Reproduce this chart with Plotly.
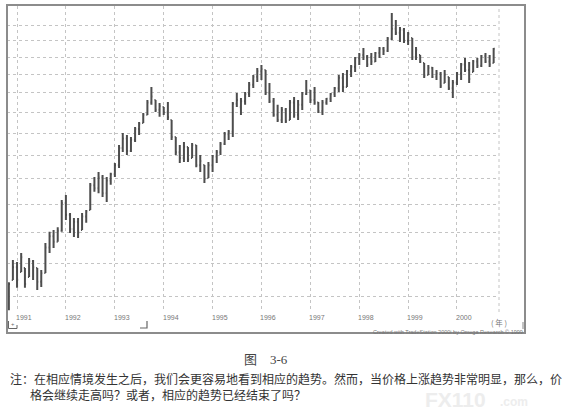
import math
import pandas as pd
import plotly.graph_objects as go

# ---------------- data (monthly bars, Nov 1990 - Oct 2000) ----------------
months = pd.date_range("1990-11-01", periods=120, freq="MS")

highs = [75.4, 80.8, 80.3, 82.6, 78.8, 81.3, 80.8, 78.8, 78.3, 85.2,
         88.2, 88.7, 89.5, 97.4, 98.9, 93.5, 92.1, 92.1, 93.5, 94.4,
         102.7, 104.6, 106.3, 105.3, 104.6, 106.0, 109.3, 115.6, 120.0, 119.3,
         118.5, 122.3, 124.2, 127.7, 133.0, 138.5, 133.0, 131.8, 130.1, 132.2,
         125.0, 118.5, 115.6, 116.7, 114.9, 116.3, 115.6, 112.1, 108.6, 109.6,
         112.1, 113.8, 116.7, 120.4, 121.1, 132.2, 135.9, 133.8, 136.4,
         140.7, 143.8, 146.9, 148.3, 146.0, 140.2, 133.8, 131.0, 130.1, 129.7,
         133.0, 134.3, 133.0, 136.4, 141.6, 137.2, 138.5, 132.2, 133.0, 133.8,
         135.9, 138.5, 143.8, 144.7, 146.0, 148.3, 152.1, 154.0, 156.4, 153.0,
         154.0, 154.5, 156.9, 156.9, 161.8, 174.4, 170.6, 167.0, 166.5,
         164.4, 161.3, 156.9, 153.0, 149.3, 148.3, 147.4, 146.0, 145.1, 146.0,
         142.9, 141.6, 145.1, 149.3, 151.6, 149.7, 150.7, 151.6, 153.0, 154.0,
         153.0, 156.4]

lows = [69.1, 75.9, 74.1, 77.8, 74.1, 76.6, 75.9, 73.6, 74.3, 77.6,
        82.6, 83.9, 85.5, 88.2, 91.5, 87.9, 86.8, 86.5, 88.7, 90.7,
        94.4, 99.9, 99.5, 98.3, 96.8, 102.1, 104.6, 107.6, 113.1, 112.1,
        113.1, 116.7, 119.3, 123.8, 126.9, 131.0, 128.1, 126.2, 126.9, 125.0,
        117.4, 112.1, 109.3, 109.6, 109.6, 111.0, 107.9, 106.3, 102.7, 104.3,
        106.3, 109.3, 112.1, 115.6, 117.4, 118.5, 130.1, 126.9, 131.0,
        134.3, 138.1, 140.7, 141.6, 135.1, 131.8, 126.2, 124.2, 123.8, 123.8,
        125.0, 125.8, 125.0, 128.9, 135.1, 131.8, 131.0, 127.7, 126.9, 131.0,
        132.2, 134.3, 136.4, 136.4, 138.5, 142.9, 145.1, 148.3, 150.7, 147.4,
        148.3, 149.7, 151.6, 153.0, 154.5, 160.3, 162.9, 159.3, 158.8,
        157.9, 150.7, 150.7, 149.3, 142.4, 143.8, 142.4, 141.6, 138.1, 140.2,
        137.2, 133.8, 139.4, 141.6, 145.1, 140.2, 145.1, 146.9, 147.4, 149.3,
        147.4, 149.3]

opens = [69.5, 75.9, 79.0, 77.8, 78.8, 76.6, 80.5, 78.8, 75.5, 77.6,
         84.0, 87.0, 85.5, 88.5, 96.5, 93.0, 89.0, 91.0, 88.7, 92.5,
         94.4, 102.0, 101.0, 104.5, 99.5, 103.5, 105.5, 108.5, 114.5, 118.0,
         113.5, 117.5, 121.5, 123.8, 127.0, 132.0, 133.0, 129.0, 130.1, 128.0,
         125.0, 118.5, 113.0, 111.0, 114.9, 111.0, 115.5, 108.5, 108.6, 104.3,
         108.5, 111.5, 113.0, 116.0, 119.5, 120.5, 131.5, 130.0, 132.5,
         135.5, 139.5, 143.0, 145.5, 146.0, 136.0, 132.5, 127.0, 125.0, 129.0,
         125.0, 132.0, 127.0, 131.0, 135.5, 137.0, 133.0, 132.0, 128.5, 132.0,
         133.5, 135.5, 138.0, 142.5, 138.5, 145.5, 147.5, 151.5, 153.0, 152.0,
         152.0, 150.0, 154.0, 156.0, 155.0, 161.0, 166.0, 164.0, 165.5,
         160.0, 161.3, 152.0, 153.0, 149.3, 143.8, 147.0, 143.0, 144.5, 140.2,
         142.9, 138.0, 140.5, 144.5, 148.5, 146.0, 145.1, 150.0, 148.0, 152.5,
         150.0, 149.3]

closes = [75.0, 79.0, 76.0, 81.5, 75.0, 80.5, 79.0, 75.5, 77.5, 84.0,
          87.0, 85.5, 88.5, 96.5, 93.0, 89.0, 91.0, 88.0, 92.5, 94.0,
          102.0, 101.0, 104.5, 99.5, 103.5, 105.5, 108.5, 114.5, 118.0, 113.5,
          117.5, 121.5, 123.5, 127.0, 132.0, 134.5, 129.0, 130.5, 128.0, 126.0,
          118.5, 113.0, 111.0, 115.0, 110.5, 115.5, 108.5, 110.0, 104.0, 108.5,
          111.5, 113.0, 116.0, 119.5, 120.5, 131.5, 133.0, 132.5, 135.5,
          139.5, 143.0, 145.5, 146.5, 136.0, 132.5, 127.0, 125.0, 129.0, 124.5,
          132.0, 127.0, 131.0, 135.5, 137.0, 133.0, 132.0, 128.5, 132.0, 133.5,
          135.5, 138.0, 142.5, 138.5, 145.5, 147.5, 151.5, 153.0, 152.0, 148.5,
          150.0, 154.0, 156.0, 155.0, 161.0, 166.0, 164.0, 165.5, 160.0,
          163.5, 152.0, 155.5, 150.0, 143.5, 147.0, 143.0, 144.5, 139.0, 144.0,
          138.0, 140.5, 144.5, 148.5, 146.0, 142.0, 150.0, 148.0, 152.5, 150.0,
          148.5, 156.0]

year_ticks = ["1991-01-01", "1992-01-01", "1993-01-01", "1994-01-01", "1995-01-01",
              "1996-01-01", "1997-01-01", "1998-01-01", "1999-01-01", "2000-01-01"]
year_labels = ["1991", "1992", "1993", "1994", "1995", "1996", "1997", "1998",
               "1999", "2000"]
price_grid = [72, 80, 88, 96, 104, 112, 120, 128, 136, 144, 152, 160, 168]

caption_title = "图　3-6"
note_line1 = "注：在相应情境发生之后，我们会更容易地看到相应的趋势。然而，当价格上涨趋势非常明显，那么，价"
note_line2 = "格会继续走高吗？或者，相应的趋势已经结束了吗？"
credit = "Created with TradeStation 2000i by Omega Research © 1999"
watermark = ("FX110", ".com")

# ---------------- layout helpers (pixel -> paper) ----------------
W, H = 574, 412
L, R, T, B = 7, 499, 6, 312


def px(x):
    return (x - L) / (R - L)


def py(y):
    return (B - y) / (B - T)


BAR = "#4d4d4d"
GRID = "#c4c4c4"
fig = go.Figure()
fig.add_trace(go.Ohlc(
    x=months, open=opens, high=highs, low=lows, close=closes,
    increasing=dict(line=dict(color=BAR, width=2)),
    decreasing=dict(line=dict(color=BAR, width=2)),
    tickwidth=0.3, showlegend=False, hoverinfo="skip",
))

shapes = [
    # dotted right edge of the price pane
    dict(type="line", xref="paper", yref="paper", x0=1, x1=1, y0=0, y1=1,
         line=dict(color=GRID, width=1, dash="dot"), layer="below"),
    # outer chart frame
    dict(type="rect", xref="paper", yref="paper",
         x0=px(7), x1=px(525), y0=py(333), y1=py(5),
         line=dict(color="#8c8c8c", width=2), layer="above"),
    # scroll markers
    dict(type="path", xref="paper", yref="paper",
         path=f"M {px(8.5)} {py(321)} L {px(8.5)} {py(328.5)} L {px(17)} {py(328.5)} L {px(17)} {py(325)}",
         line=dict(color="#666", width=1)),
    dict(type="path", xref="paper", yref="paper",
         path=f"M {px(140)} {py(328)} L {px(147)} {py(328)} L {px(147)} {py(321)}",
         line=dict(color="#666", width=1.2)),
    dict(type="line", xref="paper", yref="paper",
         x0=px(523), x1=px(523), y0=py(322), y1=py(329),
         line=dict(color="#888", width=1)),
]

annotations = []
# year labels, sitting just right of each yearly gridline
for tv, lab in zip(year_ticks, year_labels):
    annotations.append(dict(text=lab, x=tv, xref="x", y=py(317), yref="paper",
                            xshift=7, xanchor="center", yanchor="middle",
                            showarrow=False,
                            font=dict(size=7, color="#777", family="Liberation Sans")))

extra = [
    dict(text="+", x=px(12.5), y=py(324.5), font=dict(size=6, color="#666")),
    dict(text="( 年 )", x=px(499), y=py(322.5),
         font=dict(size=7.5, color="#777", family="Noto Sans CJK SC")),
    dict(text=credit, x=px(525), y=py(331.5), xanchor="right",
         font=dict(size=5.5, color="#777", family="Liberation Sans")),
    # faint watermark
    dict(text="<b>" + watermark[0] + "</b>", x=px(455), y=py(400),
         font=dict(size=21, color="#ededed", family="Liberation Sans")),
    dict(text="<b>" + watermark[1] + "</b>", x=px(514), y=py(402),
         font=dict(size=12, color="#ededed", family="Liberation Sans")),
    dict(text=caption_title, x=px(266), y=py(360),
         font=dict(size=13, color="#444", family="Liberation Serif, Noto Sans CJK SC")),
    dict(text=note_line1, x=px(8), y=py(378), xanchor="left",
         font=dict(size=12, color="#333", family="Noto Sans CJK SC")),
    dict(text=note_line2, x=px(28), y=py(394), xanchor="left",
         font=dict(size=12, color="#333", family="Noto Sans CJK SC")),
]
for a in extra:
    a.setdefault("xanchor", "center")
    a.update(xref="paper", yref="paper", yanchor="middle", showarrow=False)
annotations += extra

fig.update_layout(
    width=W, height=H,
    margin=dict(l=L, r=W - R, t=T, b=H - B, autoexpand=False),
    paper_bgcolor="white", plot_bgcolor="white",
    showlegend=False,
    shapes=shapes, annotations=annotations,
    xaxis=dict(
        type="date", range=["1990-10-18", "2000-11-10"],
        rangeslider=dict(visible=False), automargin=False,
        tickmode="array", tickvals=year_ticks, showticklabels=False,
        ticks="",
        showgrid=True, gridcolor=GRID, griddash="dot", gridwidth=1,
        zeroline=False, showline=False,
    ),
    yaxis=dict(
        type="log", range=[math.log10(68.71), math.log10(178.25)],
        automargin=False,
        tickmode="array", tickvals=price_grid, showticklabels=False,
        ticks="", showgrid=True, gridcolor=GRID, griddash="dot",
        gridwidth=1, zeroline=False, showline=False,
    ),
)

fig.write_html(
    "out.html",
    config={"displayModeBar": False, "staticPlot": True},
    post_script="document.body.style.margin='0';document.body.style.padding='0';",
)
